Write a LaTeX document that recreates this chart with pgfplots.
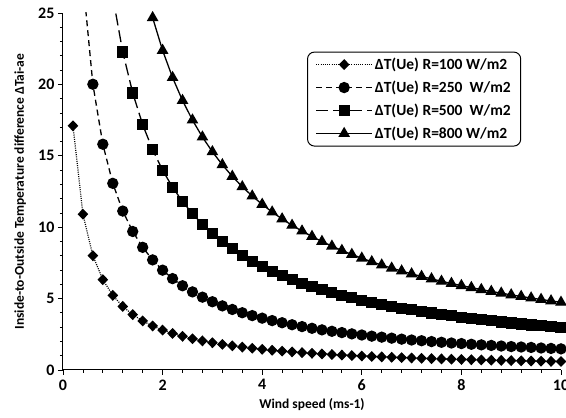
\documentclass[border=0pt]{standalone}
\usepackage{fontspec}
\setmainfont{Carlito}
\usepackage{pgfplots}
\pgfplotsset{compat=1.18}
\begin{document}
\begin{tikzpicture}
\begin{axis}[
  scale only axis,
  width=498pt, height=357pt,
  xmin=0, xmax=10, ymin=0, ymax=25,
  xtick={0,2,...,10}, ytick={0,5,...,25},
  minor tick num=4,
  tick align=outside,
  major tick length=5pt, minor tick length=3pt,
  axis lines*=left,
  axis line style={-, line width=1pt, black},
  every tick/.style={black, line width=0.8pt},
  /pgf/number format/assume math mode=true,
  tick label style={font=\fontsize{16}{16}\selectfont\bfseries},
  xticklabel style={yshift=-1pt},
  xlabel={Wind speed (ms-1)},
  ylabel={Inside-to-Outside Temperature difference ΔTai-ae},
  xlabel style={font=\fontsize{13.5}{13.5}\selectfont\bfseries, at={(axis description cs:0.5,-0.098)}, anchor=center},
  ylabel style={font=\fontsize{13.5}{13.5}\selectfont\bfseries, at={(axis description cs:-0.086,0.5)}, anchor=center},
  legend style={at={(axis description cs:0.49,0.892)}, anchor=north west, draw=black, line width=1pt, rounded corners=7pt, font=\fontsize{15.5}{15.5}\selectfont\bfseries, cells={anchor=west}, row sep=6pt, inner xsep=8pt, inner ysep=4pt},
  legend image code/.code={
    \draw[#1, mark=none] (0pt,0pt) -- (56pt,0pt);
    \draw[#1, mark indices={2}] plot coordinates {(0pt,0pt) (28pt,0pt) (56pt,0pt)};
  },
]
\addplot[black, line width=1.2pt, dash pattern=on 1pt off 1.2pt, mark=diamond*, mark size=4.6pt, mark options={solid, xscale=1.3}] coordinates {
(0.2,17.10)(0.4,10.91)(0.6,8.005)(0.8,6.324)(1.0,5.226)(1.2,4.453)(1.4,3.879)(1.6,3.436)(1.8,3.084)(2.0,2.797)
(2.2,2.560)(2.4,2.359)(2.6,2.188)(2.8,2.039)(3.0,1.910)(3.2,1.796)(3.4,1.695)(3.6,1.604)(3.8,1.523)(4.0,1.450)
(4.2,1.383)(4.4,1.323)(4.6,1.267)(4.8,1.216)(5.0,1.169)(5.2,1.125)(5.4,1.084)(5.6,1.047)(5.8,1.011)(6.0,0.979)
(6.2,0.948)(6.4,0.919)(6.6,0.892)(6.8,0.866)(7.0,0.842)(7.2,0.819)(7.4,0.797)(7.6,0.777)(7.8,0.757)(8.0,0.739)
(8.2,0.721)(8.4,0.704)(8.6,0.688)(8.8,0.673)(9.0,0.658)(9.2,0.644)(9.4,0.630)(9.6,0.617)(9.8,0.605)(10.0,0.593)
};
\addlegendentry{ΔT(Ue) R=100 W/m2}
\addplot[black, line width=1.3pt, dash pattern=on 6pt off 4pt, mark=*, mark size=5pt, mark options={solid}, mark indices={1,...,48}] coordinates {
(0.4,27.28)(0.6,20.01)(0.8,15.81)(1.0,13.07)(1.2,11.13)(1.4,9.70)(1.6,8.59)(1.8,7.71)(2.0,6.99)
(2.2,6.40)(2.4,5.90)(2.6,5.47)(2.8,5.10)(3.0,4.78)(3.2,4.49)(3.4,4.24)(3.6,4.01)(3.8,3.81)(4.0,3.63)
(4.2,3.46)(4.4,3.31)(4.6,3.17)(4.8,3.04)(5.0,2.92)(5.2,2.81)(5.4,2.71)(5.6,2.62)(5.8,2.53)(6.0,2.45)
(6.2,2.37)(6.4,2.30)(6.6,2.23)(6.8,2.16)(7.0,2.10)(7.2,2.05)(7.4,1.99)(7.6,1.94)(7.8,1.89)(8.0,1.85)
(8.2,1.80)(8.4,1.76)(8.6,1.72)(8.8,1.68)(9.0,1.64)(9.2,1.61)(9.4,1.58)(9.6,1.54)(9.8,1.51)(10.0,1.48)
};
\addlegendentry{ΔT(Ue) R=250\ \ W/m2}
\addplot[black, line width=1.3pt, dash pattern=on 12pt off 5pt, mark=square*, mark size=4.9pt, mark options={solid}, mark indices={1,...,45}] coordinates {
(1.0,26.13)(1.2,22.27)(1.4,19.40)(1.6,17.18)(1.8,15.42)(2.0,13.99)
(2.2,12.80)(2.4,11.80)(2.6,10.94)(2.8,10.20)(3.0,9.55)(3.2,8.98)(3.4,8.48)(3.6,8.02)(3.8,7.62)(4.0,7.25)
(4.2,6.92)(4.4,6.61)(4.6,6.33)(4.8,6.08)(5.0,5.84)(5.2,5.62)(5.4,5.42)(5.6,5.23)(5.8,5.06)(6.0,4.89)
(6.2,4.74)(6.4,4.59)(6.6,4.46)(6.8,4.33)(7.0,4.21)(7.2,4.09)(7.4,3.99)(7.6,3.88)(7.8,3.79)(8.0,3.69)
(8.2,3.60)(8.4,3.52)(8.6,3.44)(8.8,3.36)(9.0,3.29)(9.2,3.22)(9.4,3.15)(9.6,3.09)(9.8,3.02)(10.0,2.97)
};
\addlegendentry{ΔT(Ue) R=500\ \ W/m2}
\addplot[black, line width=1.3pt, solid, mark=triangle*, mark size=5.5pt] coordinates {
(1.8,24.67)(2.0,22.38)
(2.2,20.48)(2.4,18.87)(2.6,17.50)(2.8,16.31)(3.0,15.28)(3.2,14.37)(3.4,13.56)(3.6,12.83)(3.8,12.18)(4.0,11.60)
(4.2,11.06)(4.4,10.58)(4.6,10.13)(4.8,9.73)(5.0,9.35)(5.2,9.00)(5.4,8.67)(5.6,8.37)(5.8,8.09)(6.0,7.83)
(6.2,7.58)(6.4,7.35)(6.6,7.13)(6.8,6.93)(7.0,6.73)(7.2,6.55)(7.4,6.38)(7.6,6.21)(7.8,6.06)(8.0,5.91)
(8.2,5.77)(8.4,5.63)(8.6,5.50)(8.8,5.38)(9.0,5.26)(9.2,5.15)(9.4,5.04)(9.6,4.94)(9.8,4.84)(10.0,4.74)
};
\addlegendentry{ΔT(Ue) R=800 W/m2}
\end{axis}
\pgfresetboundingbox
\path (current axis.south west) ++(-63pt,-48pt) rectangle ++(566pt,418pt);
\end{tikzpicture}
\end{document}
